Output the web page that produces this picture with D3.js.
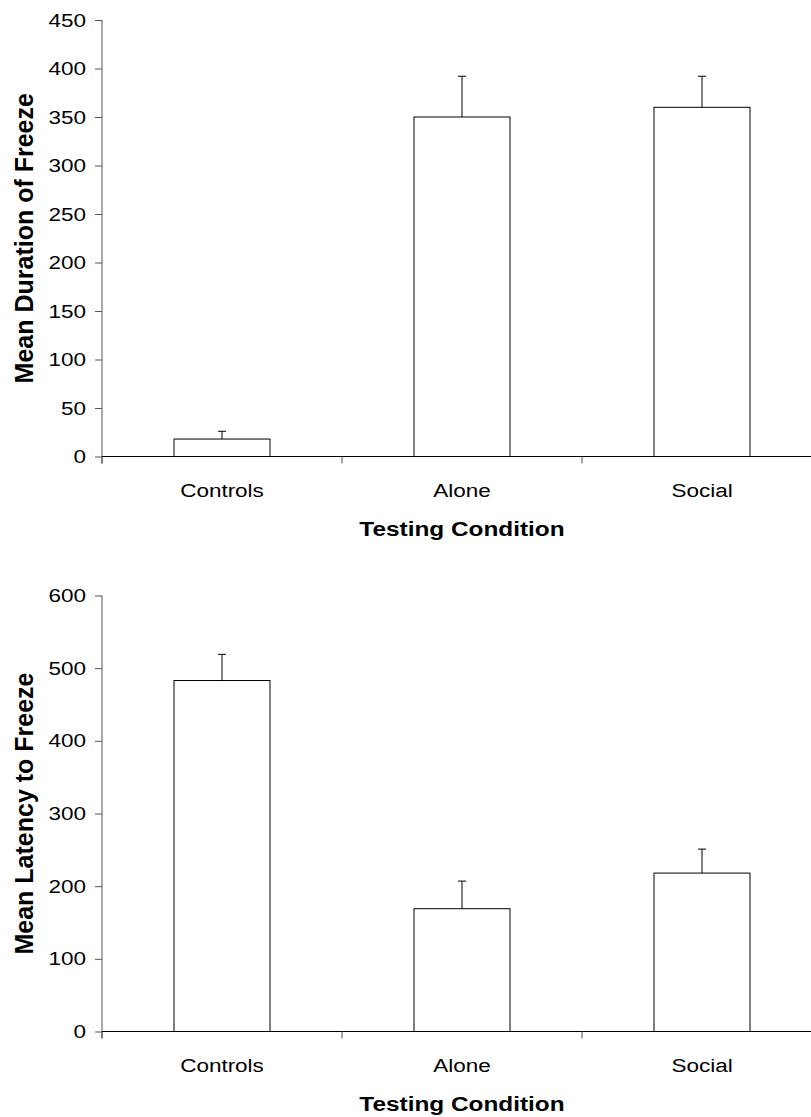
<!DOCTYPE html>
<html>
<head>
<meta charset="utf-8">
<style> body { margin: 0; background: #fff; } </style>
<script src="https://d3js.org/d3.v7.min.js"></script>
</head>
<body>
<div id="chart"></div>
<script>
// data
const categories = ["Controls", "Alone", "Social"];
const durationMeans = [18, 350, 360];
const durationErrTop = [26, 392, 392];
const durationTicks = [0, 50, 100, 150, 200, 250, 300, 350, 400, 450];
const latencyMeans = [483, 169, 218];
const latencyErrTop = [519, 207, 251];
const latencyTicks = [0, 100, 200, 300, 400, 500, 600];

const W = 811, H = 1117;
const sx = 1.25;          // text in the reference is stretched sideways
const font = "'Liberation Sans', Arial, sans-serif";

const svg = d3.select("#chart").append("svg")
    .attr("width", W).attr("height", H)
    .attr("viewBox", [0, 0, W, H]);

function panel(top, bottom, yMax, ticks, means, errTop, yTitle) {
    const x = d3.scaleBand()
        .domain(categories)
        .range([102, 822])
        .paddingInner(0.6)
        .paddingOuter(0.3);
    const y = d3.scaleLinear().domain([0, yMax]).range([bottom, top]);

    const g = svg.append("g");

    // y axis
    const yAxis = g.append("g")
        .attr("transform", `translate(102,0)`)
        .call(d3.axisLeft(y).tickValues(ticks).tickSize(7).tickFormat(""));
    yAxis.select(".domain").attr("stroke", "#555").attr("d", `M0,${top}V${bottom + 7}`);
    yAxis.selectAll(".tick line").attr("stroke", "#555");

    g.selectAll(".ylab")
        .data(ticks)
        .join("text")
        .attr("transform", d => `translate(86,${y(d) + 6.5}) scale(${sx},1)`)
        .attr("text-anchor", "end")
        .attr("font-family", font)
        .attr("font-size", 18)
        .text(d => d);

    // bars
    g.selectAll(".bar")
        .data(means)
        .join("rect")
        .attr("x", (d, i) => x(categories[i]))
        .attr("y", d => y(d))
        .attr("width", x.bandwidth())
        .attr("height", d => bottom - y(d))
        .attr("fill", "#fff")
        .attr("stroke", "#000")
        .attr("stroke-width", 1);

    // error bars (upper only)
    const cx = i => x(categories[i]) + x.bandwidth() / 2;
    g.selectAll(".err")
        .data(errTop)
        .join("path")
        .attr("d", (d, i) => `M${cx(i)},${y(means[i])}V${y(d)}M${cx(i) - 4},${y(d)}H${cx(i) + 4}`)
        .attr("stroke", "#000")
        .attr("fill", "none");

    // x axis with ticks between categories
    const edges = [102, 102 + x.step(), 102 + 2 * x.step(), 102 + 3 * x.step()];
    g.append("line")
        .attr("x1", 102).attr("x2", W)
        .attr("y1", bottom).attr("y2", bottom)
        .attr("stroke", "#000");
    g.selectAll(".xtick")
        .data(edges)
        .join("line")
        .attr("x1", d => d).attr("x2", d => d)
        .attr("y1", bottom).attr("y2", bottom + 7)
        .attr("stroke", "#555");

    g.selectAll(".xlab")
        .data(categories)
        .join("text")
        .attr("transform", d => `translate(${x(d) + x.bandwidth() / 2},${bottom + 40}) scale(${sx},1)`)
        .attr("text-anchor", "middle")
        .attr("font-family", font)
        .attr("font-size", 18)
        .text(d => d);

    g.append("text")
        .attr("transform", `translate(462,${bottom + 79}) scale(${sx},1)`)
        .attr("text-anchor", "middle")
        .attr("font-family", font)
        .attr("font-size", 19.5)
        .attr("font-weight", "bold")
        .text("Testing Condition");

    g.append("text")
        .attr("transform", `translate(33,${(top + bottom) / 2}) rotate(-90)`)
        .attr("text-anchor", "middle")
        .attr("font-family", font)
        .attr("font-size", 25)
        .attr("font-weight", "bold")
        .text(yTitle);
}

panel(20, 456.5, 450, durationTicks, durationMeans, durationErrTop, "Mean Duration of Freeze");
panel(595.5, 1031.5, 600, latencyTicks, latencyMeans, latencyErrTop, "Mean Latency to Freeze");
</script>
</body>
</html>
